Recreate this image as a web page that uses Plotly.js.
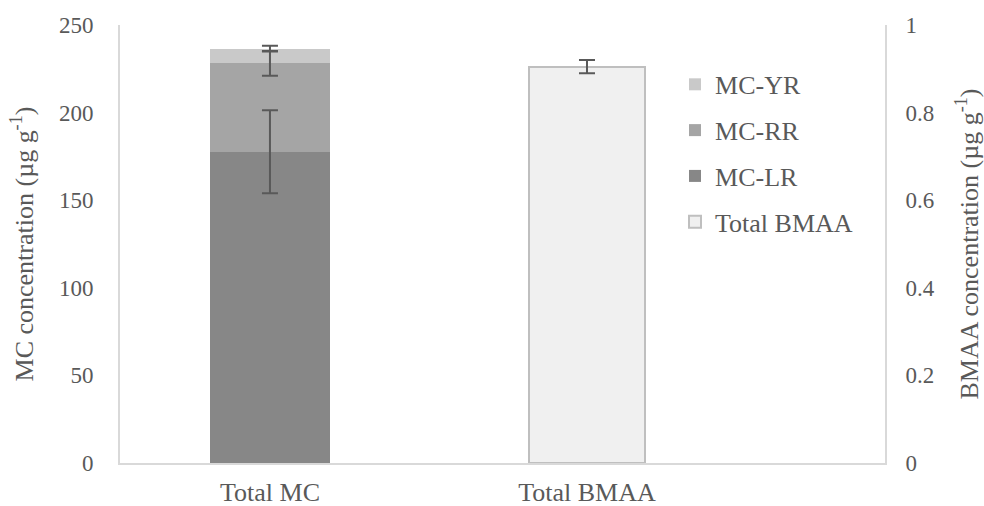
<!DOCTYPE html>
<html><head><meta charset="utf-8">
<script src="https://cdn.plot.ly/plotly-3.0.1.min.js"></script>
<style>html,body{margin:0;padding:0;background:#fff}#chart{width:984px;height:506px}</style>
</head><body><div id="chart"></div>
<script>
const categories = ['Total MC', 'Total BMAA'];
const mcLR = [177.7, null];
const mcLRerr = [23.7, null];
const mcRR = [50.4, null];
const mcRRerr = [7.0, null];
const mcYR = [8.4, null];
const mcYRerr = [1.6, null];
const bmaa = [null, 0.905];
const bmaaErr = [null, 0.015];
const seriesNames = ['MC-LR', 'MC-RR', 'MC-YR', 'Total BMAA'];

// stacked tops where each segment's error bar sits (derived from the data arrays)
const topLR = mcLR.map(v => v);
const topRR = mcLR.map((v, i) => v == null ? null : v + mcRR[i]);
const topYR = mcLR.map((v, i) => v == null ? null : v + mcRR[i] + mcYR[i]);

const errStyle = {type: 'data', visible: true, color: '#595959', thickness: 2, width: 8};
const fam = 'Liberation Serif, Times New Roman, serif';
const grey = '#595959';

function errTrace(y, arr, axis) {
  return {type: 'scatter', mode: 'markers', x: categories, y: y, yaxis: axis,
          marker: {opacity: 0, size: 1}, showlegend: false, hoverinfo: 'skip',
          error_y: Object.assign({array: arr}, errStyle)};
}

const traces = [
  {type: 'bar', x: categories, y: mcLR, name: seriesNames[0], yaxis: 'y', width: 0.379,
   marker: {color: '#878787'}, legendgroup: 'a', legendrank: 3},
  {type: 'bar', x: categories, y: mcRR, name: seriesNames[1], yaxis: 'y', width: 0.379,
   marker: {color: '#a5a5a5'}, legendgroup: 'b', legendrank: 2},
  {type: 'bar', x: categories, y: mcYR, name: seriesNames[2], yaxis: 'y', width: 0.379,
   marker: {color: '#c9c9c9'}, legendgroup: 'c', legendrank: 1},
  {type: 'bar', x: categories, y: bmaa, name: seriesNames[3], yaxis: 'y2', width: 0.365,
   marker: {color: '#f0f0f0', line: {color: '#bfbfbf', width: 2}}, legendgroup: 'd', legendrank: 4},
  errTrace(topLR, mcLRerr, 'y'),
  errTrace(topRR, mcRRerr, 'y'),
  errTrace(topYR, mcYRerr, 'y'),
  errTrace(bmaa, bmaaErr, 'y2')
];

const layout = {
  width: 984, height: 506,
  margin: {l: 120, r: 99, t: 25, b: 43},
  paper_bgcolor: '#fff', plot_bgcolor: '#fff',
  barmode: 'stack',
  showlegend: true,
  font: {family: fam, color: grey},
  xaxis: {type: 'category', range: [-0.473, 1.94], showline: true, linecolor: '#d9d9d9', linewidth: 2,
          ticks: 'outside', ticklen: 5, tickcolor: 'rgba(0,0,0,0)', tickfont: {size: 26, family: fam, color: grey},
          showgrid: false, zeroline: false, fixedrange: true},
  yaxis: {range: [0, 250], dtick: 50, showline: true, linecolor: '#d9d9d9', linewidth: 2, showgrid: false, zeroline: false,
          ticks: 'outside', ticklen: 20, tickcolor: 'rgba(0,0,0,0)', tickfont: {size: 23, family: fam, color: grey},
          title: {text: 'MC concentration (µg g<sup>-1</sup>)', font: {size: 26, family: fam, color: grey}, standoff: 18}},
  yaxis2: {range: [0, 1], dtick: 0.2, overlaying: 'y', side: 'right', showline: true, linecolor: '#d9d9d9', linewidth: 2,
           showgrid: false, zeroline: false,
           ticks: 'outside', ticklen: 14, tickcolor: 'rgba(0,0,0,0)', tickfont: {size: 23, family: fam, color: grey},
           title: {text: 'BMAA concentration (µg g<sup>-1</sup>)', font: {size: 26, family: fam, color: grey}, standoff: 26}},
  legend: {x: 0.7255, y: 0.918, xanchor: 'left', yanchor: 'top', traceorder: 'grouped', tracegroupgap: 9,
           font: {size: 26, family: fam, color: grey}, bgcolor: 'rgba(0,0,0,0)', itemwidth: 30}
};

Plotly.newPlot('chart', traces, layout, {displayModeBar: false, staticPlot: true});
</script></body></html>
